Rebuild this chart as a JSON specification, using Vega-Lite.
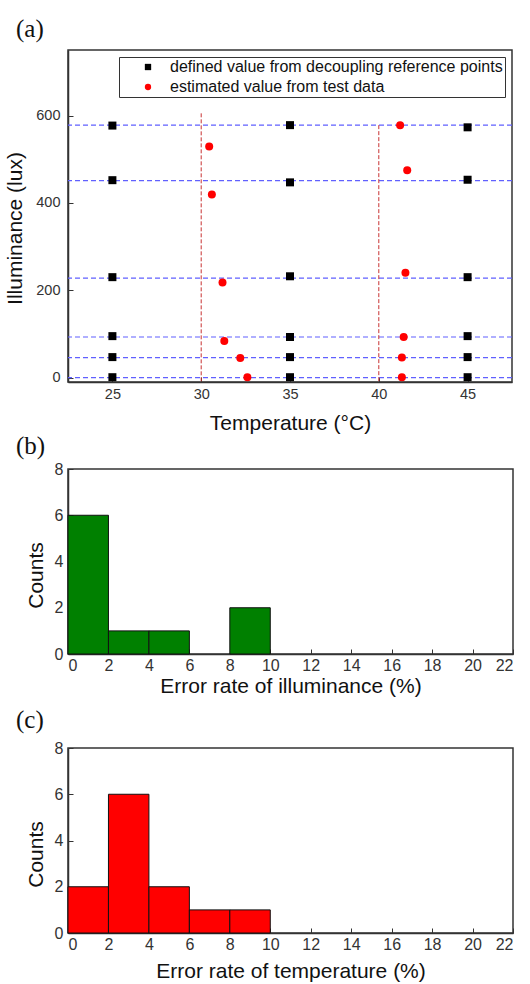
{
  "$schema": "https://vega.github.io/schema/vega-lite/v6.json",
  "padding": {"left": 4, "top": 16, "right": 5, "bottom": 0},
  "autosize": {"type": "pad"},
  "spacing": -2,
  "resolve": {"legend": {"color": "independent", "shape": "independent"}},
  "config": {
    "font": "Liberation Sans",
    "view": {"stroke": "#333", "strokeWidth": 1.5},
    "axis": {
      "grid": false,
      "labelFont": "Liberation Sans",
      "labelFontSize": 14.5,
      "labelColor": "#333",
      "titleFont": "Liberation Sans",
      "titleFontSize": 21,
      "titleFontWeight": "normal",
      "titleColor": "#111",
      "domainColor": "#333",
      "domainWidth": 1.5,
      "tickColor": "#333",
      "tickSize": -5,
      "labelPadding": 12
    },
    "title": {
      "font": "Liberation Serif",
      "fontSize": 25,
      "fontWeight": "normal",
      "color": "#111",
      "anchor": "start",
      "frame": "group",
      "dx": -52,
      "offset": 2
    }
  },
  "datasets": {
    "points": [
      {"temperature": 25, "illuminance": 577, "series": "defined value from decoupling reference points"},
      {"temperature": 25, "illuminance": 452, "series": "defined value from decoupling reference points"},
      {"temperature": 25, "illuminance": 230, "series": "defined value from decoupling reference points"},
      {"temperature": 25, "illuminance": 95, "series": "defined value from decoupling reference points"},
      {"temperature": 25, "illuminance": 47, "series": "defined value from decoupling reference points"},
      {"temperature": 25, "illuminance": 1, "series": "defined value from decoupling reference points"},
      {"temperature": 35, "illuminance": 578, "series": "defined value from decoupling reference points"},
      {"temperature": 35, "illuminance": 447, "series": "defined value from decoupling reference points"},
      {"temperature": 35, "illuminance": 232, "series": "defined value from decoupling reference points"},
      {"temperature": 35, "illuminance": 93, "series": "defined value from decoupling reference points"},
      {"temperature": 35, "illuminance": 47, "series": "defined value from decoupling reference points"},
      {"temperature": 35, "illuminance": 1, "series": "defined value from decoupling reference points"},
      {"temperature": 45, "illuminance": 573, "series": "defined value from decoupling reference points"},
      {"temperature": 45, "illuminance": 453, "series": "defined value from decoupling reference points"},
      {"temperature": 45, "illuminance": 230, "series": "defined value from decoupling reference points"},
      {"temperature": 45, "illuminance": 95, "series": "defined value from decoupling reference points"},
      {"temperature": 45, "illuminance": 47, "series": "defined value from decoupling reference points"},
      {"temperature": 45, "illuminance": 1, "series": "defined value from decoupling reference points"},
      {"temperature": 30.45, "illuminance": 529, "series": "estimated value from test data"},
      {"temperature": 30.6, "illuminance": 419, "series": "estimated value from test data"},
      {"temperature": 31.2, "illuminance": 218, "series": "estimated value from test data"},
      {"temperature": 31.3, "illuminance": 84, "series": "estimated value from test data"},
      {"temperature": 32.2, "illuminance": 45, "series": "estimated value from test data"},
      {"temperature": 32.6, "illuminance": 1, "series": "estimated value from test data"},
      {"temperature": 41.2, "illuminance": 578, "series": "estimated value from test data"},
      {"temperature": 41.6, "illuminance": 475, "series": "estimated value from test data"},
      {"temperature": 41.5, "illuminance": 240, "series": "estimated value from test data"},
      {"temperature": 41.4, "illuminance": 93, "series": "estimated value from test data"},
      {"temperature": 41.3, "illuminance": 46, "series": "estimated value from test data"},
      {"temperature": 41.3, "illuminance": 1, "series": "estimated value from test data"}
    ],
    "hlines": [
      {"level": 578}, {"level": 451}, {"level": 228}, {"level": 93}, {"level": 46}, {"level": 0}
    ],
    "vlines": [
      {"temperature": 30, "top": 605, "bottom": -10},
      {"temperature": 40, "top": 578, "bottom": -10}
    ],
    "illum": [
      {"lo": 0, "hi": 2, "count": 6},
      {"lo": 2, "hi": 4, "count": 1},
      {"lo": 4, "hi": 6, "count": 1},
      {"lo": 8, "hi": 10, "count": 2}
    ],
    "temp": [
      {"lo": 0, "hi": 2, "count": 2},
      {"lo": 2, "hi": 4, "count": 6},
      {"lo": 4, "hi": 6, "count": 2},
      {"lo": 6, "hi": 8, "count": 1},
      {"lo": 8, "hi": 10, "count": 1}
    ]
  },
  "vconcat": [
    {
      "title": {"text": "(a)", "offset": 8},
      "width": 444,
      "height": 332,
      "layer": [
        {
          "data": {"name": "hlines"},
          "mark": {"type": "rule", "stroke": "#6060ff", "strokeWidth": 1.2, "strokeDash": [5, 3]},
          "encoding": {
            "y": {"field": "level", "type": "quantitative", "scale": {"domain": [-10, 750]}}
          }
        },
        {
          "data": {"name": "vlines"},
          "mark": {"type": "rule", "stroke": "#c83232", "strokeWidth": 1, "strokeDash": [4, 2]},
          "encoding": {
            "x": {"field": "temperature", "type": "quantitative"},
            "y": {"field": "top", "type": "quantitative"},
            "y2": {"field": "bottom"}
          }
        },
        {
          "data": {"name": "points"},
          "mark": {"type": "point", "filled": true, "opacity": 1, "size": 64},
          "encoding": {
            "x": {
              "field": "temperature", "type": "quantitative",
              "title": "Temperature (°C)",
              "scale": {"domain": [22.5, 47.5], "nice": false, "zero": false},
              "axis": {"values": [25, 30, 35, 40, 45], "labelPadding": 10, "titlePadding": 12}
            },
            "y": {
              "field": "illuminance", "type": "quantitative",
              "title": "Illuminance (lux)",
              "scale": {"domain": [-10, 750], "nice": false, "zero": false},
              "axis": {"values": [0, 200, 400, 600], "labelPadding": 13, "titlePadding": 10, "titleY": 178}
            },
            "color": {
              "field": "series", "type": "nominal",
              "scale": {"domain": ["defined value from decoupling reference points", "estimated value from test data"], "range": ["#000000", "#ff0000"]},
              "legend": {
                "title": null, "orient": "top-right", "offset": 7,
                "strokeColor": "#333", "fillColor": "white", "padding": 2,
                "symbolOffset": 19, "labelOffset": 14, "labelFontSize": 16, "labelColor": "#111",
                "labelLimit": 400, "symbolSize": 40, "rowPadding": 4
              }
            },
            "shape": {
              "field": "series", "type": "nominal",
              "scale": {"domain": ["defined value from decoupling reference points", "estimated value from test data"], "range": ["square", "circle"]}
            }
          }
        }
      ]
    },
    {
      "title": {"text": "(b)"},
      "width": 445,
      "height": 185,
      "data": {"name": "illum"},
      "mark": {"type": "bar", "color": "#008000", "stroke": "#111", "strokeWidth": 1},
      "encoding": {
        "x": {
          "field": "lo", "type": "quantitative", "title": "Error rate of illuminance (%)",
          "scale": {"domain": [0, 22], "nice": false},
          "axis": {"values": [0, 2, 4, 6, 8, 10, 12, 14, 16, 18, 20, 22], "labelFontSize": 16, "labelPadding": 8, "titlePadding": 2}
        },
        "x2": {"field": "hi"},
        "y": {
          "field": "count", "type": "quantitative", "title": "Counts",
          "scale": {"domain": [0, 8], "nice": false},
          "axis": {"values": [0, 2, 4, 6, 8], "labelFontSize": 16, "labelPadding": 10, "titlePadding": 8, "titleY": 106}
        },
        "y2": {"datum": 0}
      }
    },
    {
      "title": {"text": ["", "(c)"], "lineHeight": 12, "offset": 7},
      "width": 445,
      "height": 185,
      "data": {"name": "temp"},
      "mark": {"type": "bar", "color": "#ff0000", "stroke": "#111", "strokeWidth": 1},
      "encoding": {
        "x": {
          "field": "lo", "type": "quantitative", "title": "Error rate of temperature (%)",
          "scale": {"domain": [0, 22], "nice": false},
          "axis": {"values": [0, 2, 4, 6, 8, 10, 12, 14, 16, 18, 20, 22], "labelFontSize": 16, "labelPadding": 8, "titlePadding": 8}
        },
        "x2": {"field": "hi"},
        "y": {
          "field": "count", "type": "quantitative", "title": "Counts",
          "scale": {"domain": [0, 8], "nice": false},
          "axis": {"values": [0, 2, 4, 6, 8], "labelFontSize": 16, "labelPadding": 10, "titlePadding": 8, "titleY": 106}
        },
        "y2": {"datum": 0}
      }
    }
  ]
}
